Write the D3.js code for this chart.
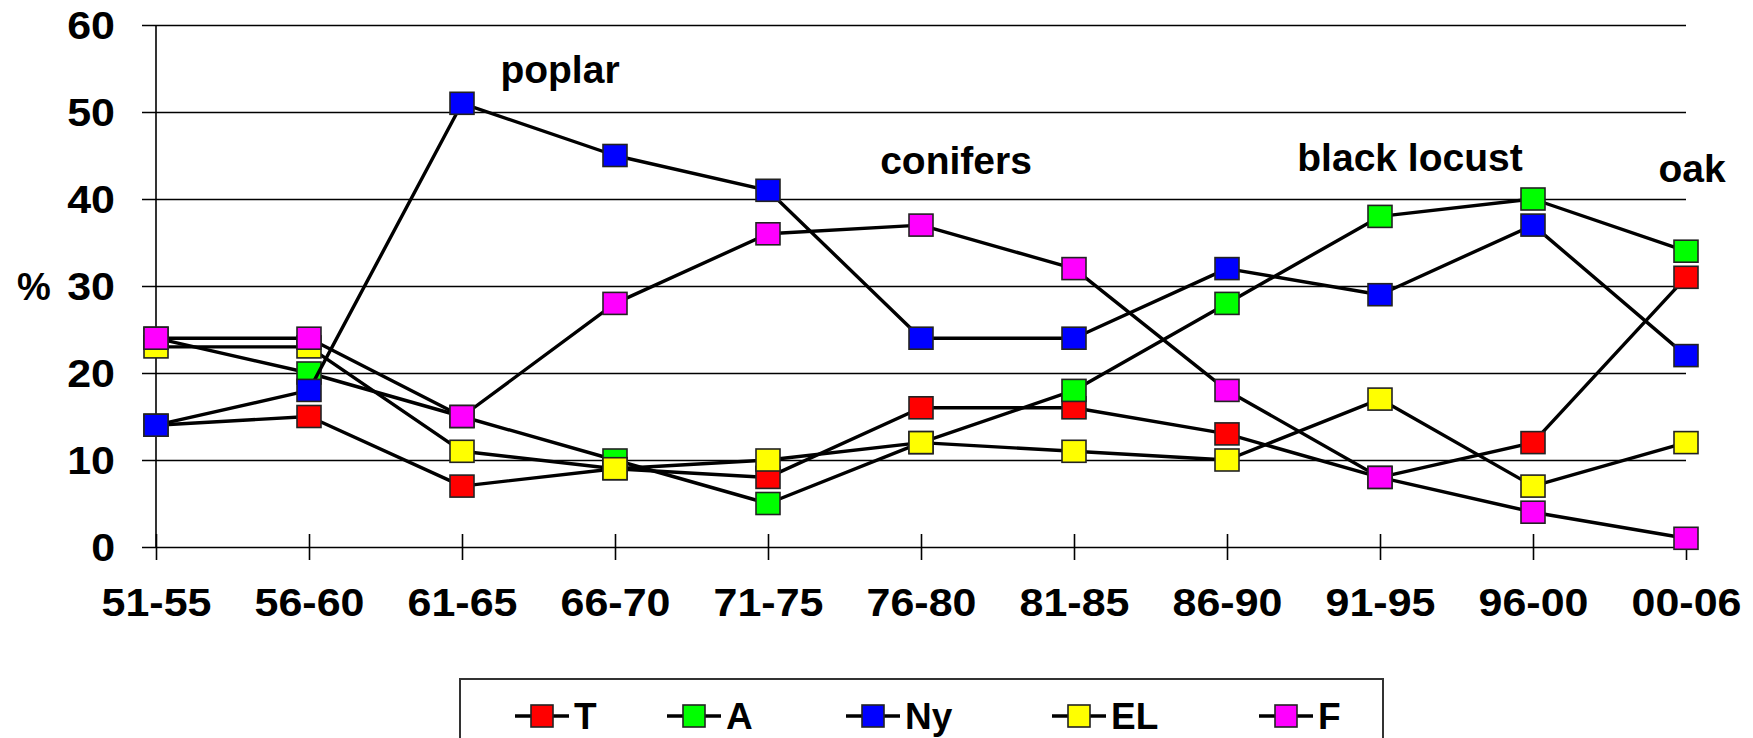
<!DOCTYPE html>
<html>
<head>
<meta charset="utf-8">
<script src="https://cdn.jsdelivr.net/npm/d3@7/dist/d3.min.js"></script>
<style>
  body { margin: 0; background: #fff; }
  text { font-family: "Liberation Sans", Arial, sans-serif; font-weight: bold; fill: #000; }
</style>
</head>
<body>
<svg width="1753" height="738"></svg>
<script>
var periods = ["51-55", "56-60", "61-65", "66-70", "71-75", "76-80", "81-85", "86-90", "91-95", "96-00", "00-06"];
var seriesNames = ["T", "A", "Ny", "EL", "F"];
var seriesColors = ["#ff0000", "#00ff00", "#0000ff", "#ffff00", "#ff00ff"];
var valuesT  = [14, 15, 7, 9, 8, 16, 16, 13, 8, 12, 31];
var valuesA  = [24, 20, 15, 10, 5, 12, 18, 28, 38, 40, 34];
var valuesNy = [14, 18, 51, 45, 41, 24, 24, 32, 29, 37, 22];
var valuesEL = [23, 23, 11, 9, 10, 12, 11, 10, 17, 7, 12];
var valuesF  = [24, 24, 15, 28, 36, 37, 32, 18, 8, 4, 1];
var yTicks = [0, 10, 20, 30, 40, 50, 60];
var noteTexts = ["poplar", "conifers", "black locust", "oak"];
var noteAt = ["61-65", "76-80", "91-95", "00-06"];
var noteValues = [53.3, 42.9, 43.2, 42.0];

var svg = d3.select("svg");
var plotLeft = 156, plotRight = 1686, plotTop = 25, plotBottom = 547;
var noteShift = [98, 35, 30, 6];

var x = d3.scalePoint().domain(periods).range([plotLeft, plotRight]);
var y = d3.scaleLinear().domain([0, 60]).range([plotBottom, plotTop]);

var allSeries = [valuesT, valuesA, valuesNy, valuesEL, valuesF].map(function(v, i) {
  return {name: seriesNames[i], color: seriesColors[i], values: v};
});

function widen(sel, k) {
  sel.each(function() {
    var w = this.getComputedTextLength();
    d3.select(this).attr("textLength", w * k).attr("lengthAdjust", "spacingAndGlyphs");
  });
}

// gridlines + y labels
var yAxis = svg.append("g")
  .attr("transform", "translate(" + (plotLeft - 14) + ",0)")
  .call(d3.axisLeft(y).tickValues(yTicks).tickSize(-(plotRight - plotLeft + 14)).tickPadding(27));
yAxis.select(".domain").remove();
yAxis.selectAll(".tick line").attr("stroke", "#000").attr("stroke-width", 1.6);
yAxis.selectAll(".tick text").attr("font-size", 38).attr("font-family", null).attr("dy", "0.36em");
widen(yAxis.selectAll(".tick text"), 1.13);

// x axis ticks + labels
var xAxis = svg.append("g")
  .attr("transform", "translate(0," + plotBottom + ")")
  .call(d3.axisBottom(x).tickSize(13).tickPadding(29));
xAxis.select(".domain").remove();
xAxis.selectAll(".tick line").attr("y1", -13).attr("stroke", "#000").attr("stroke-width", 1.6);
xAxis.selectAll(".tick text").attr("font-size", 38).attr("font-family", null);
widen(xAxis.selectAll(".tick text"), 1.13);

svg.append("line")
  .attr("x1", plotLeft).attr("x2", plotLeft)
  .attr("y1", plotTop).attr("y2", plotBottom)
  .attr("stroke", "#000").attr("stroke-width", 1.6);

svg.append("text")
  .attr("x", 17).attr("y", y(30))
  .attr("dy", "0.36em")
  .attr("font-size", 38)
  .text("%");

var line = d3.line()
  .x(function(d, i) { return x(periods[i]); })
  .y(function(d) { return y(d); });

allSeries.forEach(function(s) {
  var g = svg.append("g");
  g.append("path")
    .datum(s.values)
    .attr("fill", "none")
    .attr("stroke", "#000")
    .attr("stroke-width", 3.4)
    .attr("stroke-linejoin", "round")
    .attr("d", line);
  g.selectAll("rect")
    .data(s.values)
    .enter().append("rect")
    .attr("x", function(d, i) { return x(periods[i]) - 12; })
    .attr("y", function(d) { return y(d) - 11; })
    .attr("width", 24)
    .attr("height", 22)
    .attr("fill", s.color)
    .attr("stroke", "#222")
    .attr("stroke-width", 1.6);
});

noteTexts.forEach(function(t, i) {
  svg.append("text")
    .attr("x", x(noteAt[i]) + noteShift[i])
    .attr("y", y(noteValues[i]))
    .attr("text-anchor", "middle")
    .attr("font-size", 39)
    .text(t);
});

// legend
var legend = svg.append("g");
legend.append("rect")
  .attr("x", 460).attr("y", 679)
  .attr("width", 923).attr("height", 100)
  .attr("fill", "none")
  .attr("stroke", "#333")
  .attr("stroke-width", 2);
var legendX = [542, 694, 873, 1079, 1286];
allSeries.forEach(function(s, i) {
  var cx = legendX[i], cy = 716;
  legend.append("line")
    .attr("x1", cx - 27).attr("x2", cx + 27)
    .attr("y1", cy).attr("y2", cy)
    .attr("stroke", "#000").attr("stroke-width", 3.4);
  legend.append("rect")
    .attr("x", cx - 11).attr("y", cy - 11)
    .attr("width", 22).attr("height", 22)
    .attr("fill", s.color)
    .attr("stroke", "#222").attr("stroke-width", 1.6);
  legend.append("text")
    .attr("x", cx + 32).attr("y", cy)
    .attr("dy", "0.36em")
    .attr("font-size", 37)
    .text(s.name);
});
</script>
</body>
</html>
